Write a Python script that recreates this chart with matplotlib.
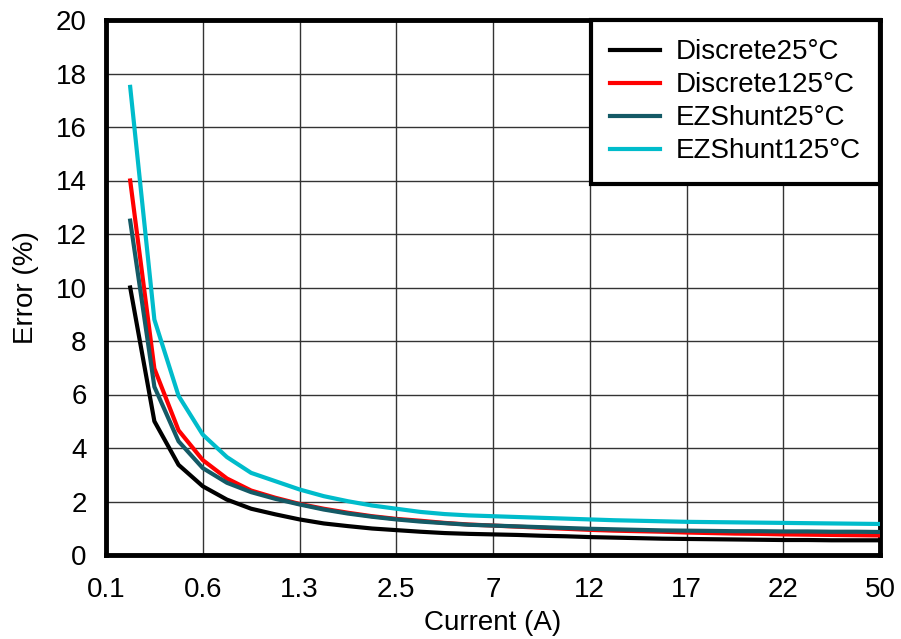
import numpy as np
import matplotlib
matplotlib.use('Agg')
import matplotlib.pyplot as plt

plt.rcParams['font.family'] = ['Liberation Sans', 'DejaVu Sans']
plt.rcParams['font.size'] = 20

# %% data
# x axis is a category axis: 4 samples per labelled division
tick_labels = ['0.1', '0.6', '1.3', '2.5', '7', '12', '17', '22', '50']
samples_per_div = 4

discrete_25 = [10.0, 5.0, 3.37, 2.57, 2.07, 1.73, 1.52, 1.33,
               1.18, 1.08, 0.99, 0.93, 0.87, 0.82, 0.79, 0.77,
               0.75, 0.72, 0.70, 0.67, 0.65, 0.63, 0.61, 0.60,
               0.59, 0.58, 0.57, 0.56, 0.56, 0.55, 0.55, 0.55]
discrete_125 = [14.0, 6.97, 4.66, 3.55, 2.86, 2.41, 2.14, 1.91,
                1.73, 1.58, 1.45, 1.35, 1.28, 1.20, 1.14, 1.10,
                1.06, 1.02, 0.98, 0.94, 0.91, 0.89, 0.87, 0.84,
                0.82, 0.80, 0.79, 0.77, 0.76, 0.75, 0.74, 0.73]
ezshunt_25 = [12.5, 6.29, 4.25, 3.25, 2.70, 2.35, 2.10, 1.89,
              1.70, 1.55, 1.43, 1.33, 1.25, 1.19, 1.13, 1.10,
              1.07, 1.04, 1.01, 0.98, 0.96, 0.94, 0.92, 0.91,
              0.90, 0.89, 0.89, 0.88, 0.88, 0.87, 0.87, 0.86]
ezshunt_125 = [17.5, 8.8, 5.95, 4.50, 3.66, 3.07, 2.76, 2.45,
               2.20, 2.01, 1.85, 1.73, 1.61, 1.53, 1.48, 1.45,
               1.42, 1.39, 1.36, 1.33, 1.30, 1.28, 1.26, 1.24,
               1.23, 1.22, 1.21, 1.20, 1.19, 1.18, 1.17, 1.16]

series = [(discrete_25, 'Discrete25°C', 'black'),
          (discrete_125, 'Discrete125°C', '#ff0000'),
          (ezshunt_25, 'EZShunt25°C', '#145a66'),
          (ezshunt_125, 'EZShunt125°C', '#00bccb')]

# %% plot
fig = plt.figure(figsize=(9.01, 6.39), dpi=100)
ax = fig.add_axes([106/901, 1 - 555/639, (880-106)/901, (555-20)/639])

for vals, name, col in series:
    pos = np.arange(1, len(vals) + 1) / samples_per_div
    ax.plot(pos, vals, '-', color=col, linewidth=3, label=name, zorder=3)

ax.set_xlim(0, len(tick_labels) - 1)
ax.set_xticks(range(len(tick_labels)))
ax.set_xticklabels(tick_labels)
ax.set_ylim(0, 20)
ax.set_yticks(range(0, 21, 2))
ax.grid(True, which='major', linestyle='-', linewidth=1.0, color='#333333')
ax.tick_params(length=0, labelsize=20)
ax.tick_params(axis='x', pad=16)
ax.tick_params(axis='y', pad=14)

for s in ax.spines.values():
    s.set_linewidth(3.5)
    s.set_color('black')

ax.set_xlabel('Current (A)', fontsize=20, labelpad=5)
ax.set_ylabel('Error (%)', fontsize=20, labelpad=12)

leg = ax.legend(loc='upper right', fontsize=20, frameon=True, fancybox=False,
                borderaxespad=0.0, handlelength=1.8, handletextpad=0.55,
                labelspacing=0.25, borderpad=0.7)
leg.get_frame().set_edgecolor('black')
leg.get_frame().set_linewidth(3)
leg.get_frame().set_alpha(1)

fig.savefig('out.png', dpi=100)
